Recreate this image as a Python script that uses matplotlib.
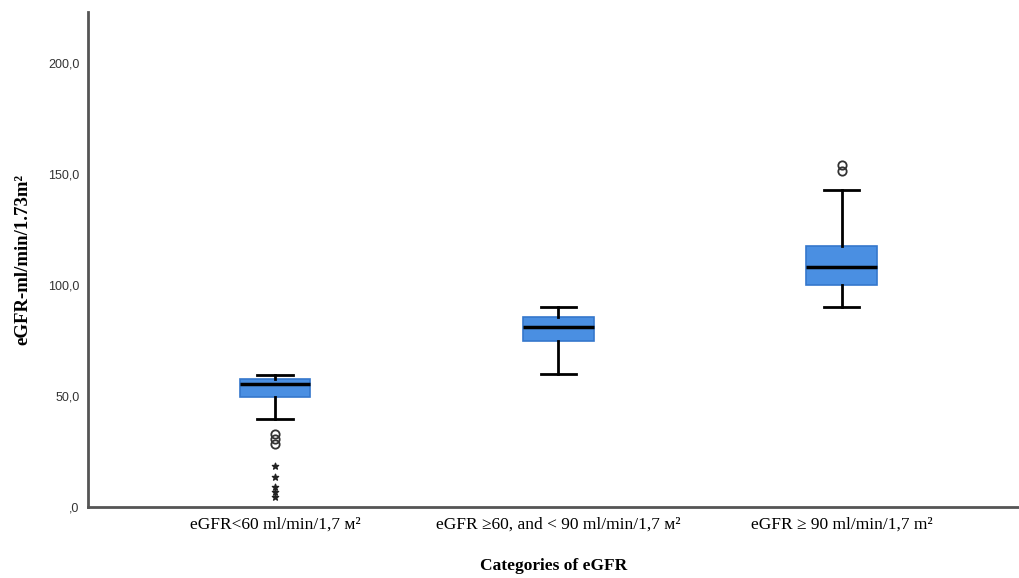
import matplotlib
matplotlib.use('Agg')
import matplotlib.pyplot as plt

# Category labels (x axis)
categories = ['eGFR<60 ml/min/1,7 м²',
              'eGFR ≥60, and < 90 ml/min/1,7 м²',
              'eGFR ≥ 90 ml/min/1,7 m²']

# Box statistics
whislo = [39.6, 60.0, 90.0]
q1 = [49.8, 74.8, 100.0]
med = [55.4, 81.0, 108.0]
q3 = [57.6, 85.6, 117.6]
whishi = [59.5, 90.0, 142.8]

# Mild outliers (circles) and extreme outliers (stars)
circle_out = [[33.0, 30.5, 28.5], [], [154.0, 151.5]]
star_out = [[18.5, 13.5, 9.0, 6.8, 4.5], [], []]

yticks = [0, 50, 100, 150, 200]
ytick_labels = [',0', '50,0', '100,0', '150,0', '200,0']

stats = []
for i in range(len(categories)):
    stats.append(dict(whislo=whislo[i], q1=q1[i], med=med[i], q3=q3[i],
                      whishi=whishi[i], fliers=circle_out[i]))

fig = plt.figure(figsize=(10.2, 5.78), dpi=100)
ax = fig.add_axes([0.0863, 0.1228, 0.9137, 0.856])

pos = list(range(len(categories)))
ax.bxp(stats, positions=pos, widths=0.25, capwidths=0.125, patch_artist=True,
       boxprops=dict(facecolor='#4a8fe2', edgecolor='#3577cc', linewidth=1.2),
       medianprops=dict(color='black', linewidth=2.5),
       whiskerprops=dict(color='black', linewidth=2),
       capprops=dict(color='black', linewidth=2),
       flierprops=dict(marker='o', markerfacecolor='none', markeredgecolor='#333333',
                       markersize=6, markeredgewidth=1.3))

# extreme values shown as stars
for i, vals in enumerate(star_out):
    if vals:
        ax.scatter([pos[i]] * len(vals), vals, marker='*', s=22, color='#222222', zorder=3)

ax.set_xlim(-0.66, 2.63)
ax.set_ylim(0, 223)
ax.set_yticks(yticks)
ax.set_yticklabels(ytick_labels, family='Liberation Sans', fontsize=9, color='#333333')
ax.set_xticks(pos)
ax.set_xticklabels(categories, family='Liberation Serif', fontsize=12.5)
ax.tick_params(length=0)
ax.tick_params(axis='x', pad=7)
ax.tick_params(axis='y', pad=6)

for s in ['top', 'right']:
    ax.spines[s].set_visible(False)
for s in ['left', 'bottom']:
    ax.spines[s].set_color('#555555')
    ax.spines[s].set_linewidth(2)

ax.set_ylabel('eGFR-ml/min/1.73m²', family='Liberation Serif',
              fontweight='bold', fontsize=13.5, labelpad=12)
ax.set_xlabel('Categories of eGFR', family='Liberation Serif', fontweight='bold',
              fontsize=12.5, labelpad=18)

fig.savefig('out.png', dpi=100)
